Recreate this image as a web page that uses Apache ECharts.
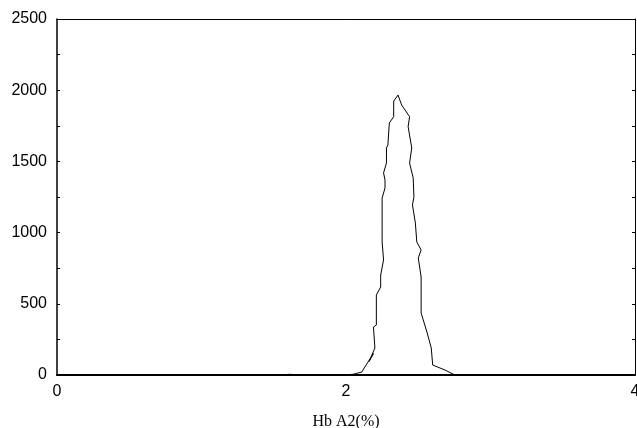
<!DOCTYPE html>
<html>
<head>
<meta charset="utf-8">
<script src="https://cdn.jsdelivr.net/npm/echarts@6/dist/echarts.min.js"></script>
<style>
  html, body { margin: 0; padding: 0; background: #fff; }
  #chart { width: 637px; height: 428px; }
</style>
</head>
<body>
<div id="chart"></div>
<script>
// Hb A2 (%) values, in the order the curve is traced
var hbA2 = [1.45, 1.54, 1.61, 1.68, 1.96, 2.05, 2.11, 2.13, 2.19, 2.16,
  2.17, 2.20, 2.19, 2.21, 2.21, 2.24, 2.24, 2.26, 2.25, 2.25,
  2.25, 2.27, 2.27, 2.26, 2.28, 2.28, 2.29, 2.30, 2.33, 2.33,
  2.34, 2.36, 2.385, 2.44, 2.43, 2.455, 2.44, 2.465, 2.47, 2.46,
  2.48, 2.49, 2.52, 2.50, 2.52, 2.52, 2.56, 2.59, 2.60, 2.685,
  2.74, 2.76, 2.9];
// counts
var counts = [0, 0, 5, 0, 0, 5, 21, 56, 150, 95,
  105, 190, 337, 351, 562, 618, 702, 808, 934, 1018,
  1243, 1313, 1369, 1419, 1489, 1594, 1615, 1770, 1814, 1924,
  1931, 1966, 1896, 1814, 1744, 1594, 1489, 1383, 1250, 1194,
  1067, 934, 878, 822, 688, 435, 302, 190, 70, 35,
  7, 0, 0];
var xTicks = [0, 4, 2];   // min, max, interval
var yTicks = [0, 2500, 250];

var chart = echarts.init(document.getElementById('chart'));

var points = hbA2.map(function (v, i) { return [v, counts[i]]; });

var labelFont = { color: '#000', fontFamily: 'Liberation Sans, Arial', fontSize: 16 };

chart.setOption({
  backgroundColor: '#fff',
  animation: false,
  grid: { left: 57, right: 2, top: 19, bottom: 53, containLabel: false, outerBoundsMode: 'none' },
  xAxis: [
    {
      type: 'value',
      min: xTicks[0],
      max: xTicks[1],
      interval: xTicks[2],
      name: 'Hb A2(%)',
      nameLocation: 'middle',
      nameGap: 39,
      nameTextStyle: { color: '#000', fontFamily: 'Liberation Serif, Times New Roman', fontSize: 16 },
      axisLine: { onZero: false, lineStyle: { color: '#000', width: 2 } },
      axisTick: { show: false },
      axisLabel: Object.assign({ margin: 9 }, labelFont),
      splitLine: { show: false }
    },
    {
      type: 'value',
      position: 'top',
      min: xTicks[0],
      max: xTicks[1],
      interval: xTicks[2],
      axisLine: { show: true, onZero: false, lineStyle: { color: '#000', width: 1 } },
      axisTick: { show: false },
      axisLabel: { show: false },
      splitLine: { show: false }
    }
  ],
  yAxis: [
    {
      type: 'value',
      min: yTicks[0],
      max: yTicks[1],
      interval: yTicks[2],
      axisLine: { show: true, onZero: false, lineStyle: { color: '#000', width: 1.5 } },
      axisTick: { show: true, inside: true, length: 3, lineStyle: { color: '#000' } },
      axisLabel: Object.assign({
        margin: 10,
        formatter: function (v) { return v % 500 === 0 ? String(v) : ''; }
      }, labelFont),
      splitLine: { show: false }
    },
    {
      type: 'value',
      position: 'right',
      min: yTicks[0],
      max: yTicks[1],
      interval: yTicks[2],
      axisLine: { show: true, onZero: false, lineStyle: { color: '#000', width: 1 } },
      axisTick: { show: true, inside: true, length: 3, lineStyle: { color: '#000' } },
      axisLabel: { show: false },
      splitLine: { show: false }
    }
  ],
  series: [
    {
      type: 'line',
      data: points,
      showSymbol: false,
      lineStyle: { color: '#000', width: 1 },
      itemStyle: { color: '#000' }
    }
  ]
});
</script>
</body>
</html>
